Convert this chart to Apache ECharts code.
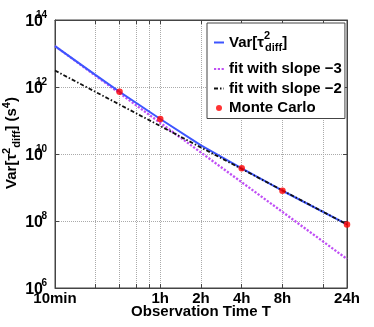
<!DOCTYPE html>
<html>
<head>
<meta charset="UTF-8">
<title>Var[tau^2 diff] vs observation time</title>
<script src="https://cdn.jsdelivr.net/npm/echarts@6.0.0/dist/echarts.min.js"></script>
<style>
  html, body { margin: 0; padding: 0; background: #fff; }
  #chart { width: 374px; height: 327px; }
</style>
</head>
<body>
<div id="chart"></div>
<script>
// observation time in minutes
const obsTime = [10, 20, 30, 60, 120, 240, 480, 1440];
const varDiff = [1.66e13, 2.26e12, 7.2e11, 1.11e11, 1.82e10, 3.74e9, 8.0e8, 7.9e7];
// fit lines are straight on log-log, so two end points each
const fitTime = [10, 1440];
const fitSlope3 = [1.66e13, 7.35e6];
const fitSlope2 = [3.1e12, 7.9e7];
// Monte Carlo points
const mcTime = [30, 60, 240, 480, 1440];
const mcVar = [7.2e11, 1.11e11, 3.74e9, 8.0e8, 7.9e7];
// axis ticks
const xTickVals = [10, 60, 120, 240, 480, 1440];
const xTickLabels = ['10min', '1h', '2h', '4h', '8h', '24h'];
const xGridVals = [20, 30, 40, 50, 60, 120, 240, 480, 960];
const yTickVals = [1e6, 1e8, 1e10, 1e12, 1e14];
const yGridVals = [1e8, 1e10, 1e12];

const FONT = '"Liberation Sans", Arial, Helvetica, sans-serif';
const pairs = (xs, ys) => xs.map((x, i) => [x, ys[i]]);

function xLabel(v) {
    let best = 0;
    xTickVals.forEach((t, i) => {
        if (Math.abs(Math.log(t / v)) < Math.abs(Math.log(xTickVals[best] / v))) best = i;
    });
    return xTickLabels[best];
}

const axisLineStyle = { color: '#444', width: 1 };
const gridLine = { show: true, lineStyle: { type: 'dotted', color: '#aaa', width: 1 } };
const noSymbol = { opacity: 0 };

const chart = echarts.init(document.getElementById('chart'));
chart.setOption({
    animation: false,
    textStyle: { fontFamily: FONT },
    grid: {
        left: 55, right: 27, top: 20, bottom: 39,
        containLabel: false, outerBoundsMode: 'none',
        show: true, borderColor: '#444', borderWidth: 1
    },
    legend: {
        orient: 'vertical',
        left: 207,
        top: 23,
        padding: [5, 3, 3, 6],
        itemGap: 4.5,
        itemWidth: 10,
        itemHeight: 6,
        backgroundColor: '#fff',
        borderColor: '#444',
        borderWidth: 1,
        borderRadius: 0,
        data: [
            { name: 'var', itemStyle: noSymbol },
            { name: 'fit3', itemStyle: noSymbol },
            { name: 'fit2', itemStyle: noSymbol },
            { name: 'mc', icon: 'circle' }
        ],
        formatter: function (name) {
            if (name === 'var') return '{m|Var[τ}{sup|2}{sub|diff}{m|]}';
            if (name === 'fit3') return 'fit with slope −3';
            if (name === 'fit2') return 'fit with slope −2';
            return 'Monte Carlo';
        },
        textStyle: {
            fontSize: 15, fontWeight: 'bold', color: '#000', lineHeight: 15,
            rich: {
                m: { fontSize: 15, fontWeight: 'bold', color: '#000', lineHeight: 29 },
                sup: { fontSize: 11, fontWeight: 'bold', color: '#000', width: 1, padding: [0, 0, 13, 0] },
                sub: { fontSize: 11, fontWeight: 'bold', color: '#000', padding: [11, 0, 0, 0] }
            }
        }
    },
    xAxis: [{
        type: 'log', logBase: 10, min: 10, max: 1440,
        name: 'Observation Time T', nameLocation: 'middle', nameGap: 16, nameMoveOverlap: false,
        nameTextStyle: { fontSize: 15, fontWeight: 'bold', color: '#000' },
        axisLine: { show: true, onZero: false, lineStyle: axisLineStyle },
        axisTick: { show: true, inside: true, length: 4, customValues: xGridVals, lineStyle: axisLineStyle },
        axisLabel: {
            customValues: xTickVals, formatter: xLabel, margin: 3,
            fontSize: 15, fontWeight: 'bold', color: '#000', showMinLabel: true, showMaxLabel: true
        },
        splitLine: gridLine,
        minorTick: { show: false }
    }, {
        type: 'log', logBase: 10, min: 10, max: 1440, position: 'top',
        axisLine: { show: true, onZero: false, lineStyle: axisLineStyle },
        axisTick: { show: true, inside: true, length: 4, customValues: xGridVals, lineStyle: axisLineStyle },
        axisLabel: { show: false },
        splitLine: { show: false }
    }],
    yAxis: [{
        type: 'log', logBase: 10, min: 1e6, max: 1e14,
        name: '{m|Var[τ}{sup|2}{sub|diff}{m|] (s}{sup|4}{m|)}',
        nameLocation: 'middle', nameGap: 32, nameMoveOverlap: false,
        nameTextStyle: {
            padding: [0, 0, 0, 22],
            rich: {
                m: { fontSize: 15, fontWeight: 'bold', color: '#000' },
                sup: { fontSize: 11, fontWeight: 'bold', color: '#000', padding: [0, 0, 11, 0] },
                sub: { fontSize: 11, fontWeight: 'bold', color: '#000', padding: [9, 0, 0, 0] }
            }
        },
        axisLine: { show: true, onZero: false, lineStyle: axisLineStyle },
        axisTick: { show: true, inside: true, length: 4, customValues: yGridVals, lineStyle: axisLineStyle },
        axisLabel: {
            customValues: yTickVals, margin: 8, showMinLabel: true, showMaxLabel: true,
            formatter: v => '{b|10}{s|' + Math.round(Math.log10(v)) + '}',
            rich: {
                b: { fontSize: 16, fontWeight: 'bold', color: '#000', padding: [3, 0, 0, 0] },
                s: { fontSize: 10, fontWeight: 'bold', color: '#000', width: 4, padding: [0, 0, 9, 0] }
            }
        },
        splitLine: gridLine,
        minorTick: { show: false }
    }, {
        type: 'log', logBase: 10, min: 1e6, max: 1e14, position: 'right',
        axisLine: { show: true, onZero: false, lineStyle: axisLineStyle },
        axisTick: { show: true, inside: true, length: 4, customValues: yGridVals, lineStyle: axisLineStyle },
        axisLabel: { show: false },
        splitLine: { show: false }
    }],
    series: [{
        name: 'fit3', type: 'line', symbol: 'none', z: 2,
        data: pairs(fitTime, fitSlope3),
        itemStyle: { color: '#c04ff5' },
        lineStyle: { color: '#c04ff5', width: 2.3, type: [2.2, 1.6] }
    }, {
        name: 'var', type: 'line', symbol: 'none', z: 3,
        data: pairs(obsTime, varDiff),
        itemStyle: { color: '#3d55ff' },
        lineStyle: { color: '#3d55ff', width: 2 }
    }, {
        name: 'fit2', type: 'line', symbol: 'none', z: 4,
        data: pairs(fitTime, fitSlope2),
        itemStyle: { color: '#111' },
        lineStyle: { color: '#111', width: 1.8, type: [4, 2, 1.5, 2] }
    }, {
        name: 'mc', type: 'scatter', symbol: 'circle', symbolSize: 6.5, z: 5,
        data: pairs(mcTime, mcVar),
        itemStyle: { color: '#ff0000' }
    }]
});
</script>
</body>
</html>
